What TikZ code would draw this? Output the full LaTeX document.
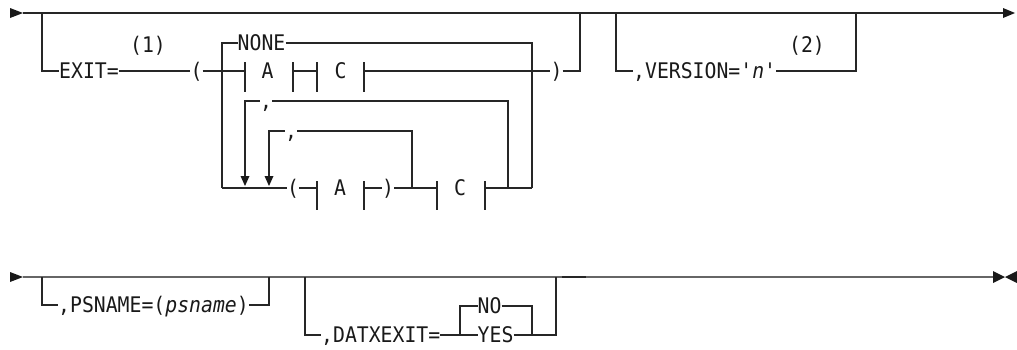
\documentclass[tikz,border=0pt]{standalone}
\usepackage{fontspec}
\newfontfamily\dgfont[FakeStretch=0.92]{DejaVu Sans Mono}
\begin{document}
\begin{tikzpicture}[x=1pt,y=-1pt,
  rr/.style={line width=1.3pt, draw=black!85},
  rrgray/.style={line width=1.3pt, draw=black!60},
  lbl/.style={font=\dgfont\fontsize{21.5}{24}\selectfont, inner xsep=0pt, inner ysep=0pt,
              text height=15.7pt, text depth=0pt, text=black!90},
  tip/.style={fill=black!90, draw=none}]
\useasboundingbox (0,0) rectangle (1017,349);

% ---------------- row 1 ----------------
\coordinate (s1) at (23,13);
\coordinate (e1) at (1003,13);
\fill[tip] (10,8) -- (s1) -- (10,18) -- cycle;
\draw[rr] (s1) -- (e1);
\fill[tip] (1003,8) -- (1015,13) -- (1003,18) -- cycle;

% EXIT branch
\coordinate (b1a) at (42,13);
\coordinate (b1b) at (42,71);
\node[lbl,anchor=west] (exit) at (59,71) {EXIT=};
\node[lbl] (n1) at (148,45) {(1)};
\node[lbl] (lp1) at (196.5,71) {(};
\draw[rr] (b1a) -- (b1b) -- (exit.west);
\draw[rr] (exit.east) -- (lp1.west);
\coordinate (t1) at (245,71);
\coordinate (t2) at (293,71);
\coordinate (t3) at (317,71);
\coordinate (t4) at (364,71);
\draw[rr] (lp1.east) -- (t1);
\foreach \b in {t1,t2,t3,t4} \draw[rr] ([yshift=9pt]\b) -- ([yshift=-21pt]\b);
\node[lbl] (A1) at (267.5,71) {A};
\draw[rr] (t2) -- (t3);
\node[lbl] (C1) at (340.5,71) {C};
\node[lbl] (rp1) at (556.5,71) {)};
\draw[rr] (t4) -- (rp1.west);
\coordinate (b1c) at (580,71);
\coordinate (b1d) at (580,13);
\draw[rr] (rp1.east) -- (b1c) -- (b1d);

% NONE loop
\coordinate (nl) at (222,43);
\coordinate (bl) at (222,188);
\coordinate (nr) at (532,43);
\coordinate (br) at (532,188);
\node[lbl,anchor=west] (none) at (237.5,43) {NONE};
\draw[rr] (bl) -- (nl) -- (none.west);
\draw[rr] (none.east) -- (nr) -- (br);

% bottom repetition row
\node[lbl] (lp2) at (293,188) {(};
\draw[rr] (bl) -- (lp2.west);
\coordinate (u1) at (317,188);
\coordinate (u2) at (364,188);
\coordinate (u3) at (437,188);
\coordinate (u4) at (485,188);
\foreach \b in {u1,u2,u3,u4} \draw[rr] ([yshift=7pt]\b) -- ([yshift=-22pt]\b);
\draw[rr] (lp2.east) -- (u1);
\node[lbl] (A2) at (340,188) {A};
\node[lbl] (rp2) at (388,188) {)};
\draw[rr] (u2) -- (rp2.west);
\draw[rr] (rp2.east) -- (u3);
\node[lbl] (C2) at (460,188) {C};
\draw[rr] (u4) -- (br);

% comma loop 1
\coordinate (c1a) at (508,188);
\coordinate (c1b) at (508,101);
\coordinate (c1c) at (245,101);
\coordinate (c1d) at (245,178);
\node[lbl] (cm1) at (266,101) {,};
\draw[rr] (c1a) -- (c1b) -- (cm1.east);
\draw[rr] (cm1.west) -- (c1c) -- (c1d);
\fill[tip] (240.5,176) -- (249.5,176) -- (245,186) -- cycle;

% comma loop 2
\coordinate (c2a) at (412,188);
\coordinate (c2b) at (412,131);
\coordinate (c2c) at (269,131);
\coordinate (c2d) at (269,178);
\node[lbl] (cm2) at (291,131) {,};
\draw[rr] (c2a) -- (c2b) -- (cm2.east);
\draw[rr] (cm2.west) -- (c2c) -- (c2d);
\fill[tip] (264.5,176) -- (273.5,176) -- (269,186) -- cycle;

% VERSION branch
\coordinate (b2a) at (616,13);
\coordinate (b2b) at (616,71);
\coordinate (b2c) at (856,71);
\coordinate (b2d) at (856,13);
\node[lbl,anchor=west] (ver) at (633,71) {,VERSION='\textit{n}'};
\node[lbl] (n2) at (807,45) {(2)};
\draw[rr] (b2a) -- (b2b) -- (ver.west);
\draw[rr] (ver.east) -- (b2c) -- (b2d);

% ---------------- row 2 ----------------
\coordinate (s2) at (23,277);
\coordinate (e2) at (993,277);
\fill[tip] (10,272) -- (s2) -- (10,282) -- cycle;
\draw[rrgray] (s2) -- (e2);
\coordinate (d1) at (562,277);
\coordinate (d2) at (586,277);
\draw[rr] (d1) -- (d2);
\fill[tip] (993,271) -- (1005,277) -- (993,283) -- cycle;
\fill[tip] (1017,271) -- (1005,277) -- (1017,283) -- cycle;

% PSNAME branch
\coordinate (p1) at (42,277);
\coordinate (p2) at (42,305);
\coordinate (p3) at (269,305);
\coordinate (p4) at (269,277);
\node[lbl,anchor=west] (ps) at (58,305) {,PSNAME=(\textit{psname})};
\draw[rr] (p1) -- (p2) -- (ps.west);
\draw[rr] (ps.east) -- (p3) -- (p4);

% DATXEXIT branch
\coordinate (q1) at (305,277);
\coordinate (q2) at (305,335);
\coordinate (q3) at (460,335);
\coordinate (q4) at (460,306);
\coordinate (q5) at (532,306);
\coordinate (q6) at (532,335);
\coordinate (q7) at (556,335);
\coordinate (q8) at (556,277);
\node[lbl,anchor=west] (dx) at (321,335) {,DATXEXIT=};
\node[lbl,anchor=west] (no) at (477.5,306) {NO};
\node[lbl,anchor=west] (yes) at (477.5,335) {YES};
\draw[rr] (q1) -- (q2) -- (dx.west);
\draw[rr] (dx.east) -- (q3) -- (yes.west);
\draw[rr] (q3) -- (q4) -- (no.west);
\draw[rr] (no.east) -- (q5) -- (q6);
\draw[rr] (yes.east) -- (q6) -- (q7) -- (q8);
\end{tikzpicture}
\end{document}
